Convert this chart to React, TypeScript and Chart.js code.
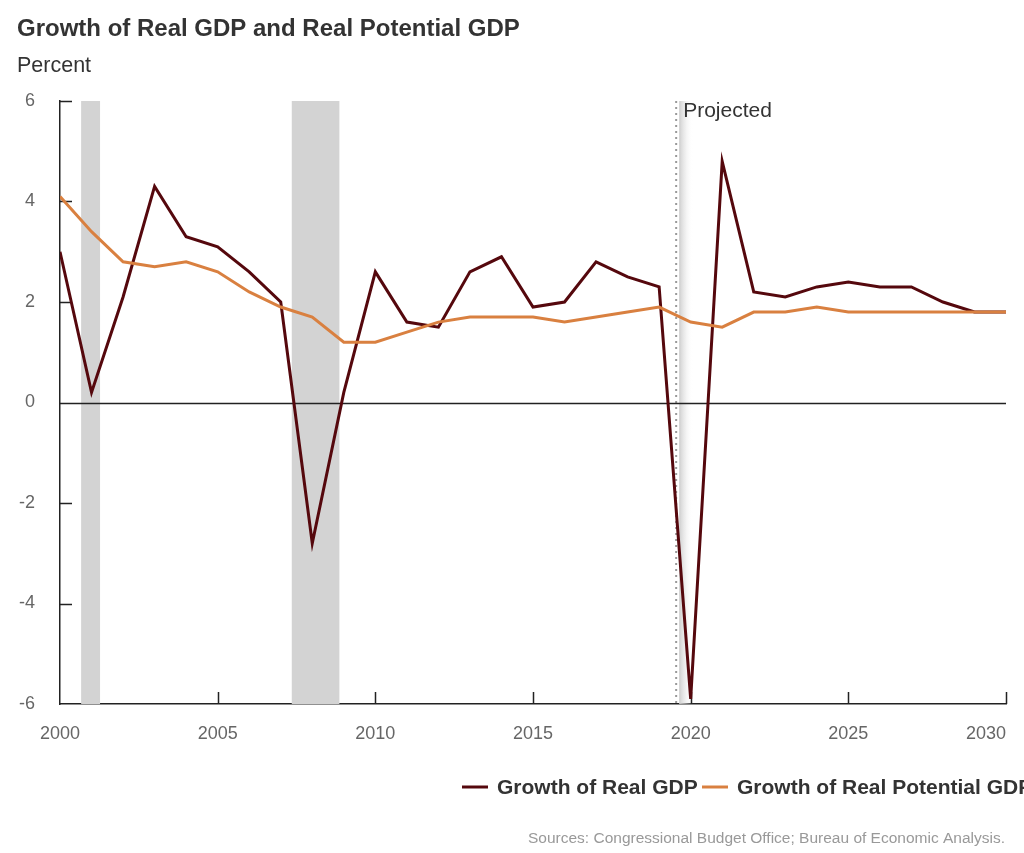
import React, { useEffect, useRef } from "react";
import { Chart, registerables } from "chart.js";

Chart.register(...registerables);

const years = [2000, 2001, 2002, 2003, 2004, 2005, 2006, 2007, 2008, 2009, 2010, 2011, 2012, 2013, 2014, 2015, 2016, 2017, 2018, 2019, 2020, 2021, 2022, 2023, 2024, 2025, 2026, 2027, 2028, 2029, 2030];
const realGdp = [3.0, 0.2, 2.1, 4.3, 3.3, 3.1, 2.6, 2.0, -2.8, 0.2, 2.6, 1.6, 1.5, 2.6, 2.9, 1.9, 2.0, 2.8, 2.5, 2.3, -5.9, 4.8, 2.2, 2.1, 2.3, 2.4, 2.3, 2.3, 2.0, 1.8, 1.8];
const potentialGdp = [4.1, 3.4, 2.8, 2.7, 2.8, 2.6, 2.2, 1.9, 1.7, 1.2, 1.2, 1.4, 1.6, 1.7, 1.7, 1.7, 1.6, 1.7, 1.8, 1.9, 1.6, 1.5, 1.8, 1.8, 1.9, 1.8, 1.8, 1.8, 1.8, 1.8, 1.8];
const recessionStart = [2000.67, 2007.35];
const recessionEnd = [2001.27, 2008.86];
const projectionStart = 2019.54;
const xTicks = [2000, 2005, 2010, 2015, 2020, 2025, 2030];
const yTicks = [-6, -4, -2, 0, 2, 4, 6];

const FONT = "'Liberation Sans', Arial, Helvetica, sans-serif";

const decorPlugin = {
  id: "decor",
  beforeDatasetsDraw(chart: any) {
    const { ctx, chartArea, scales } = chart;
    const x = scales.x;
    const y = scales.y;
    ctx.save();
    // recession bars
    ctx.fillStyle = "#d3d3d3";
    for (let i = 0; i < recessionStart.length; i++) {
      const x0 = x.getPixelForValue(recessionStart[i]);
      const x1 = x.getPixelForValue(recessionEnd[i]);
      ctx.fillRect(x0, chartArea.top, x1 - x0, chartArea.bottom - chartArea.top);
    }
    // projection gradient
    const px = x.getPixelForValue(projectionStart);
    const gx0 = px + 3;
    const gx1 = px + 17;
    const grad = ctx.createLinearGradient(gx0, 0, gx1, 0);
    grad.addColorStop(0, "rgba(205,205,205,1)");
    grad.addColorStop(1, "rgba(255,255,255,0)");
    ctx.fillStyle = grad;
    ctx.fillRect(gx0, chartArea.top, gx1 - gx0, chartArea.bottom - chartArea.top);
    // dotted line
    ctx.strokeStyle = "#999";
    ctx.lineWidth = 2;
    ctx.setLineDash([2, 4]);
    ctx.beginPath();
    ctx.moveTo(px, chartArea.top);
    ctx.lineTo(px, chartArea.bottom);
    ctx.stroke();
    ctx.setLineDash([]);
    // zero line
    const y0 = Math.round(y.getPixelForValue(0)) + 0.5;
    ctx.strokeStyle = "#222";
    ctx.lineWidth = 1.5;
    ctx.beginPath();
    ctx.moveTo(chartArea.left, y0);
    ctx.lineTo(chartArea.right, y0);
    ctx.stroke();
    // inward ticks
    ctx.beginPath();
    for (const v of yTicks) {
      if (v === 0 || v === -6) continue;
      const yy = Math.round(y.getPixelForValue(v)) + 0.5;
      ctx.moveTo(chartArea.left, yy);
      ctx.lineTo(chartArea.left + 12, yy);
    }
    for (const v of xTicks) {
      if (v === 2000) continue;
      const xx = Math.round(x.getPixelForValue(v)) + 0.5;
      ctx.moveTo(xx, chartArea.bottom);
      ctx.lineTo(xx, chartArea.bottom - 12);
    }
    ctx.stroke();
    ctx.restore();
  },
  afterDraw(chart: any) {
    const { ctx, scales } = chart;
    const x = scales.x;
    ctx.save();
    ctx.textBaseline = "alphabetic";
    ctx.textAlign = "left";
    ctx.fillStyle = "#333";
    ctx.font = `bold 24px ${FONT}`;
    ctx.fillText("Growth of Real GDP and Real Potential GDP", 17, 36);
    ctx.font = `21.5px ${FONT}`;
    ctx.fillText("Percent", 17, 72);
    ctx.font = `21px ${FONT}`;
    ctx.fillText("Projected", x.getPixelForValue(projectionStart) + 7, 117);
    // legend
    const ly = 787;
    ctx.lineWidth = 3;
    ctx.strokeStyle = "#55080d";
    ctx.beginPath();
    ctx.moveTo(462, ly);
    ctx.lineTo(488, ly);
    ctx.stroke();
    ctx.font = `bold 21px ${FONT}`;
    ctx.textBaseline = "middle";
    ctx.fillStyle = "#333";
    ctx.fillText("Growth of Real GDP", 497, ly + 1);
    ctx.strokeStyle = "#d98040";
    ctx.beginPath();
    ctx.moveTo(702, ly);
    ctx.lineTo(728, ly);
    ctx.stroke();
    ctx.fillText("Growth of Real Potential GDP", 737, ly + 1);
    // source
    ctx.font = `15.5px ${FONT}`;
    ctx.fillStyle = "#999";
    ctx.textAlign = "right";
    ctx.fillText("Sources: Congressional Budget Office; Bureau of Economic Analysis.", 1005, 839);
    ctx.restore();
  },
};

export default function App() {
  const ref = useRef<HTMLCanvasElement | null>(null);
  useEffect(() => {
    if (!ref.current) return;
    const chart = new Chart(ref.current, {
      type: "line",
      data: {
        datasets: [
          {
            label: "Growth of Real Potential GDP",
            data: years.map((yr, i) => ({ x: yr, y: potentialGdp[i] })),
            borderColor: "#d98040",
            borderWidth: 3,
            pointRadius: 0,
            tension: 0,
          },
          {
            label: "Growth of Real GDP",
            data: years.map((yr, i) => ({ x: yr, y: realGdp[i] })),
            borderColor: "#55080d",
            borderWidth: 3,
            pointRadius: 0,
            tension: 0,
          },
        ],
      },
      options: {
        animation: false,
        responsive: false,
        layout: { padding: { left: 0, top: 101, right: 18, bottom: 99 } },
        plugins: { legend: { display: false }, tooltip: { enabled: false }, title: { display: false } },
        scales: {
          x: {
            type: "linear",
            min: 2000,
            max: 2030,
            afterFit: (s: any) => { s.height = 50; s.paddingLeft = 0; s.paddingRight = 0; },
            afterBuildTicks: (s: any) => { s.ticks = xTicks.map((v) => ({ value: v })); },
            grid: { display: false, drawTicks: false },
            border: { display: true, color: "#222", width: 1.5 },
            ticks: {
              padding: 19,
              color: "#666",
              font: { family: FONT, size: 18 },
              maxRotation: 0,
              callback: (v: any) => (v === 2030 ? String(v) + "        " : String(v)),
            },
          },
          y: {
            type: "linear",
            min: -6,
            max: 6,
            afterFit: (s: any) => { s.width = 60; s.paddingTop = 0; s.paddingBottom = 0; },
            afterBuildTicks: (s: any) => { s.ticks = yTicks.map((v) => ({ value: v })); },
            grid: { display: false, drawTicks: false },
            border: { display: true, color: "#222", width: 1.5 },
            ticks: {
              padding: 25,
              color: "#666",
              font: { family: FONT, size: 18 },
              callback: (v: any) => String(v),
            },
          },
        },
      },
      plugins: [decorPlugin],
    });
    return () => chart.destroy();
  }, []);
  return (
    <div style={{ position: "absolute", left: 0, top: 0, width: 1024, height: 853, background: "#fff", overflow: "hidden" }}>
      <canvas ref={ref} width={1024} height={853} style={{ display: "block", width: 1024, height: 853 }} />
    </div>
  );
}
